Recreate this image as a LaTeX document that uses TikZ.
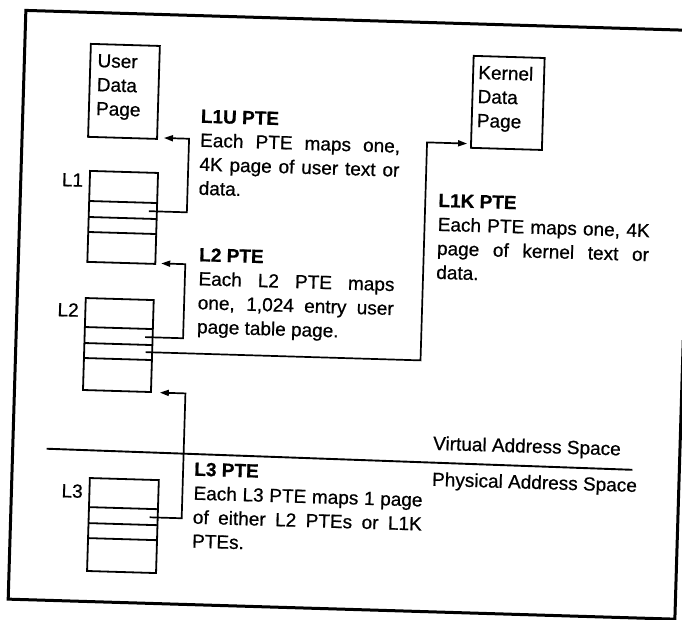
\documentclass[tikz,border=0pt]{standalone}
\usepackage{fontspec}
\setmainfont{Liberation Sans}
\newfontfamily\scanfont{Liberation Sans}[FakeBold=0.7]
\usetikzlibrary{arrows.meta,calc}
\newcommand{\jline}[2]{\makebox[#1][s]{#2}}
\begin{document}
\begin{tikzpicture}[x=1pt,y=1pt,
  frame/.style={line width=3pt, line join=miter},
  pagebox/.style={draw, line width=1.8pt, rectangle, inner sep=0pt},
  rowline/.style={line width=1.8pt},
  link/.style={line width=1.7pt, -{Triangle[length=9pt,width=6pt]}},
  sep/.style={line width=1.9pt},
  lbl/.style={inner sep=0pt, anchor=east, font=\scanfont\fontsize{19}{24}\selectfont},
  txt/.style={inner sep=0pt, anchor=base west, align=left, font=\scanfont\fontsize{19}{24}\selectfont},
]
\useasboundingbox (0,0) rectangle (682,-620);
\begin{scope}[rotate around={-1.72:(341,-310)}, transform shape]
% outer frame (upper right edge lies outside the sheet)
\draw[frame] (684,-330) |- (17,-609) |- (700,-20);

% user data page (anchor is the baseline of the last line)
\node[pagebox, minimum width=69pt, minimum height=93pt] (udp) at (117.5,-98) {};
\node[txt] (udptxt) at (90,-122.5) {User\\Data\\Page};

% kernel data page
\node[pagebox, minimum width=71pt, minimum height=92pt] (kdp) at (501.5,-98) {};
\node[txt] (kdptxt) at (471,-123) {Kernel\\Data\\Page};

% L1 table
\node[pagebox, minimum width=68pt, minimum height=91pt] (l1) at (120,-224) {};
\draw[rowline] (86,-208.6) -- (154,-208.6);
\draw[rowline] (86,-224.6) -- (154,-224.6);
\draw[rowline] (86,-239.6) -- (154,-239.6);
\node[lbl] (l1lbl) at (79.5,-188) {L1};

% L2 table
\node[pagebox, minimum width=68pt, minimum height=92pt] (l2) at (119.5,-351.7) {};
\draw[rowline] (85.5,-334.7) -- (153.5,-334.7);
\draw[rowline] (85.5,-350.7) -- (153.5,-350.7);
\draw[rowline] (85.5,-365.7) -- (153.5,-365.7);
\node[lbl] (l2lbl) at (79,-318) {L2};

% L3 table
\node[pagebox, minimum width=69pt, minimum height=93pt] (l3) at (129.5,-532) {};
\draw[rowline] (95,-514.6) -- (164,-514.6);
\draw[rowline] (95,-530.6) -- (164,-530.6);
\draw[rowline] (95,-545.6) -- (164,-545.6);
\node[lbl] (l3lbl) at (88.5,-499) {L3};

% entry points and arrow targets
\coordinate (e1) at (146,-217);
\coordinate (e2) at (146,-343);
\coordinate (e2k) at (147,-358);
\coordinate (e3) at (156,-523);
\coordinate (tipudp) at ($(udp.south east)+(6,2)$);
\coordinate (tipl1) at ($(l1.south east)+(5,1.5)$);
\coordinate (tipkdp) at ($(kdp.south west)+(-3,5)$);
\coordinate (tipl2) at ($(l2.south east)+(8,0.5)$);

% connectors
\draw[link] (e1) -- ++(38,0) |- (tipudp);
\draw[link] (e2) -- ++(38,0) |- (tipl1);
\draw[link] (e2k) -- ++(275,0) |- (tipkdp);
\draw[link] (e3) -- ++(32,0) |- (tipl2);

% separator
\draw[sep] (51,-457.5) -- (637,-461);
\node[txt] (virt) at (437,-447) {Virtual Address Space};
\node[txt] (phys) at (437,-483) {Physical Address Space};

% descriptions (anchor is the baseline of the last line)
\node[txt] (d1u) at (195,-199) {\textbf{L1U PTE}\\\jline{200pt}{Each PTE maps one,}\\\jline{200pt}{4K page of user text or}\\data.};
\node[txt] (d2) at (197.5,-337.5) {\textbf{L2 PTE}\\\jline{196pt}{Each L2 PTE maps}\\\jline{196pt}{one, 1,024 entry user}\\page table page.};
\node[txt] (d1k) at (435,-276) {\textbf{L1K PTE}\\\jline{212pt}{Each PTE maps one, 4K}\\\jline{212pt}{page of kernel text or}\\data.};
\node[txt] (d3) at (199,-552) {\textbf{L3 PTE}\\\jline{229pt}{Each L3 PTE maps 1 page}\\\jline{229pt}{of either L2 PTEs or L1K}\\PTEs.};
\end{scope}
\end{tikzpicture}
\end{document}
